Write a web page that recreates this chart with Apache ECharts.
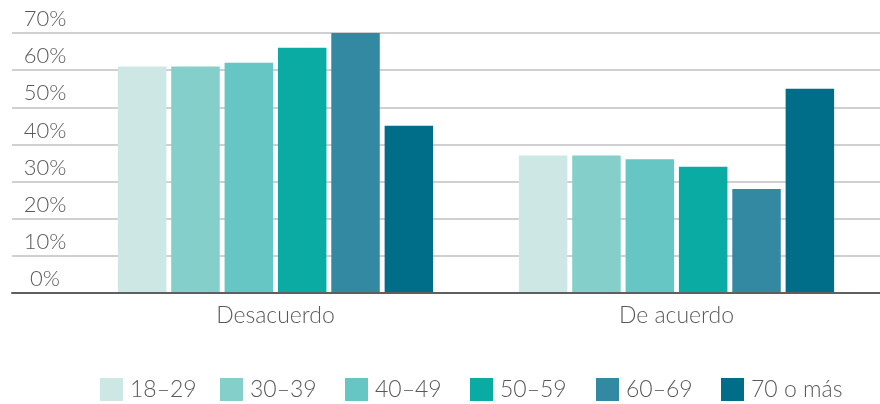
<!DOCTYPE html>
<html>
<head>
<meta charset="utf-8">
<script src="https://cdn.jsdelivr.net/npm/echarts@6/dist/echarts.min.js"></script>
<style>
  html, body { margin: 0; padding: 0; background: #ffffff; }
  #chart { width: 880px; height: 404px; }
</style>
</head>
<body>
<div id="chart"></div>
<script>
// Respuestas por grupo de edad
const categories = ['Desacuerdo', 'De acuerdo'];
const ageGroups = ['18–29', '30–39', '40–49', '50–59', '60–69', '70 o más'];
const values1829 = [61, 37];
const values3039 = [61, 37];
const values4049 = [62, 36];
const values5059 = [66, 34];
const values6069 = [70, 28];
const values70 = [45, 55];
const yTicks = [0, 10, 20, 30, 40, 50, 60, 70];

const seriesValues = [values1829, values3039, values4049, values5059, values6069, values70];
const colors = ['#CDE8E4', '#84CFC9', '#66C6C3', '#0AABA3', '#3489A2', '#006E89'];
const legendLefts = [100, 220, 345, 470, 596, 721];
const textColor = '#595959';
const fontFamily = 'Lato, "Open Sans", sans-serif';

const chart = echarts.init(document.getElementById('chart'));

const series = ageGroups.map((name, i) => ({
  name: name,
  type: 'bar',
  xAxisIndex: 1,
  yAxisIndex: 1,
  data: seriesValues[i],
  barWidth: 48.5,
  barGap: '10%',
  itemStyle: { color: colors[i] },
  z: 3
}));

// one legend block per age group, evenly spaced along the bottom
const legends = ageGroups.map((name, i) => ({
  data: [name],
  left: legendLefts[i],
  top: 378,
  padding: 0,
  icon: 'rect',
  itemWidth: 23,
  itemHeight: 23,
  textStyle: {
    color: textColor,
    fontFamily: fontFamily,
    fontWeight: 300,
    fontSize: 23,
    padding: [0, 0, 0, 2]
  }
}));

chart.setOption({
  animation: false,
  backgroundColor: '#ffffff',
  grid: [
    // background grid: gridlines, y labels and baseline
    { left: 12, right: 0, top: 33, bottom: 111 },
    // bars
    { left: 75, right: 3, top: 33, bottom: 111 }
  ],
  xAxis: [
    {
      type: 'category',
      gridIndex: 0,
      data: [''],
      axisLine: { show: true, lineStyle: { color: '#5f5f5f', width: 2 } },
      axisTick: { show: false },
      axisLabel: { show: false },
      z: 5
    },
    {
      type: 'category',
      gridIndex: 1,
      data: categories,
      axisLine: { show: false },
      axisTick: { show: false },
      axisLabel: {
        color: textColor,
        fontFamily: fontFamily,
        fontWeight: 300,
        fontSize: 23,
        margin: 11
      }
    }
  ],
  yAxis: [
    {
      type: 'value',
      gridIndex: 0,
      min: yTicks[0],
      max: yTicks[yTicks.length - 1],
      interval: 10,
      axisLine: { show: false },
      axisTick: { show: false },
      splitLine: { show: true, lineStyle: { color: '#c0c0c0', width: 1.5 } },
      axisLabel: {
        inside: true,
        margin: 33,
        align: 'center',
        verticalAlign: 'bottom',
        lineHeight: 22,
        padding: [0, 0, 3, 0],
        color: textColor,
        fontFamily: fontFamily,
        fontWeight: 300,
        fontSize: 22,
        formatter: v => v + '%'
      }
    },
    {
      type: 'value',
      gridIndex: 1,
      min: yTicks[0],
      max: yTicks[yTicks.length - 1],
      interval: 10,
      show: false,
      splitLine: { show: false }
    }
  ],
  legend: legends,
  series: series
});
</script>
</body>
</html>
